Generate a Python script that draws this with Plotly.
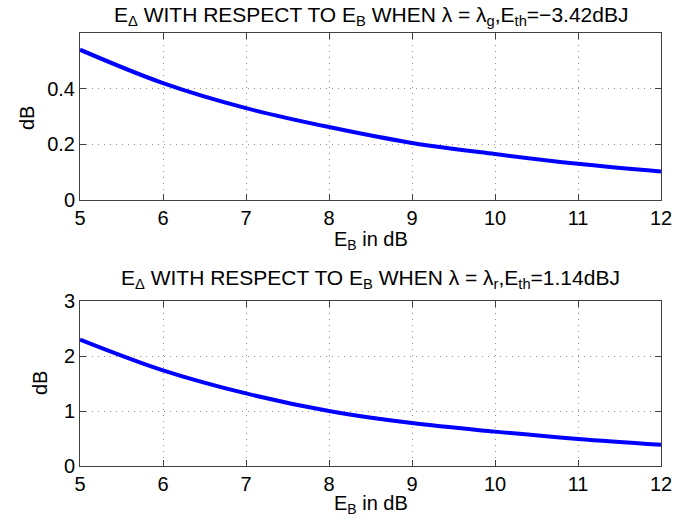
import plotly.graph_objects as go

W, H = 686, 521

eb = [5, 6, 7, 8, 9, 10, 11, 12]
ed_g = [0.54, 0.42, 0.33, 0.262, 0.205, 0.165, 0.13, 0.102]
ed_r = [2.3, 1.74, 1.32, 1.0, 0.78, 0.625, 0.49, 0.385]

x_ticks = [5, 6, 7, 8, 9, 10, 11, 12]
y1_ticks = [0, 0.2, 0.4]
y1_labels = ["0", "0.2", "0.4"]
y2_ticks = [0, 1, 2, 3]

title1 = "E<sub>Δ</sub> WITH RESPECT TO E<sub>B</sub> WHEN λ = λ<sub>g</sub>,E<sub>th</sub>=−3.42dBJ"
title2 = "E<sub>Δ</sub> WITH RESPECT TO E<sub>B</sub> WHEN λ = λ<sub>r</sub>,E<sub>th</sub>=1.14dBJ"
xlab = "E<sub>B</sub> in dB"
ylab = "dB"

FONT = "Liberation Sans, Arial, sans-serif"
line_col = "#0000ff"
box_col = "#404040"
grid_col = "#8c8c8c"

fig = go.Figure()
fig.add_trace(go.Scatter(x=eb, y=ed_g, mode="lines", line=dict(color=line_col, width=4, shape="spline"),
                         xaxis="x", yaxis="y", showlegend=False))
fig.add_trace(go.Scatter(x=eb, y=ed_r, mode="lines", line=dict(color=line_col, width=4, shape="spline"),
                         xaxis="x2", yaxis="y2", showlegend=False))

def px(v):
    return v / W

def py(v):
    return 1 - v / H

axcommon = dict(showline=True, linecolor=box_col, linewidth=1, mirror="ticks",
                ticks="inside", ticklen=6, tickcolor=box_col, automargin=False,
                showgrid=True, gridcolor=grid_col, griddash="1px,5px", gridwidth=1,
                zeroline=False, tickfont=dict(family=FONT, size=20, color="#000"))

x_dom = [px(80), px(661)]
fig.update_layout(
    template="none",
    width=W, height=H, margin=dict(l=0, r=0, t=0, b=0, autoexpand=False),
    paper_bgcolor="white", plot_bgcolor="white",
    xaxis=dict(domain=x_dom, range=[5, 12], tickvals=x_ticks, anchor="y", **axcommon),
    yaxis=dict(domain=[py(200), py(33)], range=[0, 0.6], tickvals=y1_ticks, ticktext=y1_labels,
               anchor="x", **axcommon),
    xaxis2=dict(domain=x_dom, range=[5, 12], tickvals=x_ticks, anchor="y2", **axcommon),
    yaxis2=dict(domain=[py(466), py(301)], range=[0, 3], tickvals=y2_ticks, anchor="x2", **axcommon),
)

ann = []
tf = dict(family=FONT, size=21, color="#000")
lf = dict(family=FONT, size=20, color="#000")
ann.append(dict(text=title1, x=px(370.5), y=py(16), xref="paper", yref="paper",
                showarrow=False, font=tf, xanchor="center", yanchor="middle"))
ann.append(dict(text=title2, x=px(370.5), y=py(279), xref="paper", yref="paper",
                showarrow=False, font=tf, xanchor="center", yanchor="middle"))
ann.append(dict(text=xlab, x=px(370.5), y=py(241), xref="paper", yref="paper",
                showarrow=False, font=lf, xanchor="center", yanchor="middle"))
ann.append(dict(text=xlab, x=px(370.5), y=py(504), xref="paper", yref="paper",
                showarrow=False, font=lf, xanchor="center", yanchor="middle"))
ann.append(dict(text=ylab, x=px(27), y=py(118), xref="paper", yref="paper", textangle=-90,
                showarrow=False, font=lf, xanchor="center", yanchor="middle"))
ann.append(dict(text=ylab, x=px(40), y=py(383), xref="paper", yref="paper", textangle=-90,
                showarrow=False, font=lf, xanchor="center", yanchor="middle"))
fig.update_layout(annotations=ann)

fig.write_html("out.html", config={"displayModeBar": False},
               post_script="document.body.style.margin='0px';document.body.style.overflow='hidden';")
